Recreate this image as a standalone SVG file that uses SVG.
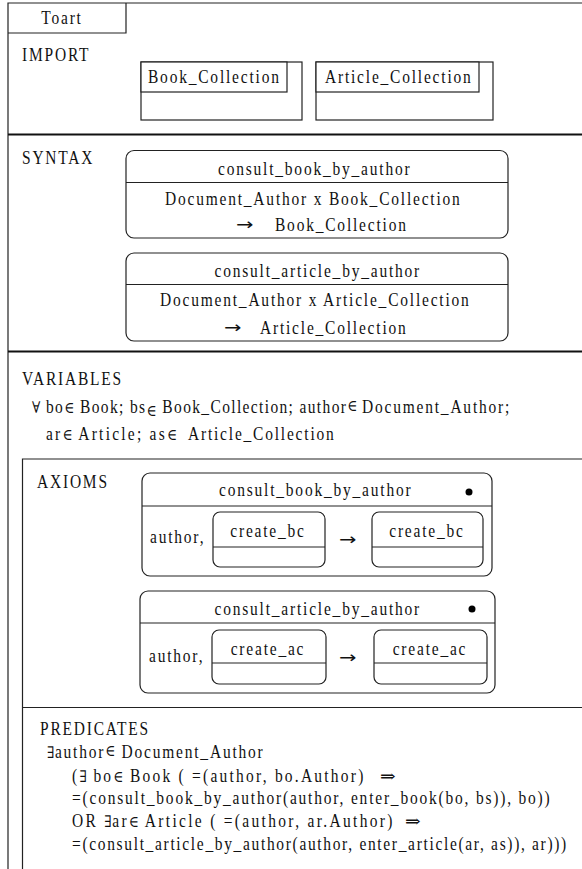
<svg xmlns="http://www.w3.org/2000/svg" width="582" height="869" viewBox="0 0 582 869" xml:space="preserve">
  <style>
    /* narrow, tall serif lettering: glyphs squeezed horizontally around their own box */
    .t { font-family: "Liberation Serif", "DejaVu Serif", serif; font-size: 18px; letter-spacing: 2.1px; fill: #111;
         transform: scaleX(0.86); transform-box: fill-box; transform-origin: 0 50%; }
    .mid { text-anchor: middle; transform-origin: 50% 50%; }
    .tight { letter-spacing: 1.6px; }
    .loose { letter-spacing: 2.6px; }
    .looser { letter-spacing: 2.7px; }
    .long { letter-spacing: 1.95px; }
    .sym { font-family: "DejaVu Serif", "Liberation Serif", serif; font-size: 16px; letter-spacing: 0.5px; }
    .arr { font-family: "DejaVu Sans", sans-serif; font-size: 16px; letter-spacing: 0; transform: scaleX(1.3); }
    .imp { font-family: "DejaVu Serif", serif; font-size: 17px; letter-spacing: 0; transform: scaleX(1.1); }
    .ln { stroke: #222; stroke-width: 1.2; fill: none; }
    .thick { stroke: #111; stroke-width: 2.2; fill: none; }
    .bx { fill: #fff; stroke: #222; stroke-width: 1.2; }
  </style>

  <rect width="582" height="869" fill="#fff"/>

  <!-- outer specification frame with its name tab -->
  <g id="frame">
    <path class="ln" d="M8 869 V3 H582"/>
    <path class="ln" d="M8 33 H126 V3"/>
    <text class="t mid" x="62" y="24">Toart</text>
  </g>

  <!-- IMPORT section -->
  <g id="import">
    <text class="t" x="22" y="61">IMPORT</text>
  </g>
  <g id="book-collection">
    <rect class="bx" x="141" y="62" width="161" height="58"/>
    <rect class="bx" x="141" y="62" width="146" height="30"/>
    <text class="t" x="148" y="83">Book_Collection</text>
  </g>
  <g id="article-collection">
    <rect class="bx" x="316" y="62" width="177" height="58"/>
    <rect class="bx" x="316" y="62" width="163" height="30"/>
    <text class="t" x="325" y="83">Article_Collection</text>
  </g>
  <line class="thick" x1="8" y1="134.5" x2="582" y2="134.5"/>

  <!-- SYNTAX section -->
  <g id="syntax">
    <text class="t" x="22" y="164">SYNTAX</text>
  </g>
  <g id="syntax-consult-book">
    <rect class="bx" x="126" y="150.5" width="382" height="87.5" rx="8"/>
    <line class="ln" x1="126" y1="182.5" x2="508" y2="182.5"/>
    <text class="t" x="218" y="175">consult_book_by_author</text>
    <text class="t" x="165" y="205">Document_Author x Book_Collection</text>
    <text class="t arr" x="236" y="230">→</text>
    <text class="t" x="275" y="231">Book_Collection</text>
  </g>
  <g id="syntax-consult-article">
    <rect class="bx" x="126" y="253" width="382" height="88" rx="8"/>
    <line class="ln" x1="126" y1="284.5" x2="508" y2="284.5"/>
    <text class="t" x="214.5" y="277.5">consult_article_by_author</text>
    <text class="t" x="160" y="306.5">Document_Author x Article_Collection</text>
    <text class="t arr" x="224" y="333">→</text>
    <text class="t" x="260" y="334">Article_Collection</text>
  </g>
  <line class="thick" x1="8" y1="351.5" x2="582" y2="351.5"/>

  <!-- VARIABLES section -->
  <g id="variables">
    <text class="t" x="22" y="385">VARIABLES</text>
    <text class="t tight" x="32" y="413"><tspan class="sym">∀</tspan> bo<tspan class="sym">∈</tspan> Book; bs<tspan class="sym" dy="3">∈</tspan><tspan dy="-3"> Book_Collection; author</tspan><tspan class="sym" dy="-2">∈</tspan></text>
    <text class="t" x="362" y="413">Document_Author;</text>
    <text class="t loose" x="46" y="440">ar<tspan class="sym">∈</tspan> Article; as<tspan class="sym">∈</tspan></text>
    <text class="t" x="188" y="440">Article_Collection</text>
  </g>

  <!-- inner frame holding AXIOMS and PREDICATES -->
  <path class="ln" d="M22.5 869 V459 H582"/>

  <!-- AXIOMS section -->
  <g id="axioms">
    <text class="t" x="37" y="488">AXIOMS</text>
  </g>
  <g id="axiom-consult-book">
    <rect class="bx" x="142" y="473" width="350" height="103" rx="8"/>
    <line class="ln" x1="142" y1="506" x2="492" y2="506"/>
    <text class="t" x="219" y="496.5">consult_book_by_author</text>
    <circle cx="469" cy="492" r="3.5" fill="#000"/>
    <text class="t" x="150" y="543">author,</text>
    <g id="axiom-book-left">
      <rect class="bx" x="213" y="512" width="112" height="55" rx="7"/>
      <line class="ln" x1="213" y1="547" x2="325" y2="547"/>
      <text class="t mid" x="268" y="537">create_bc</text>
    </g>
    <text class="t arr" x="339" y="545">→</text>
    <g id="axiom-book-right">
      <rect class="bx" x="372" y="512" width="111" height="55" rx="7"/>
      <line class="ln" x1="372" y1="547" x2="483" y2="547"/>
      <text class="t mid" x="427" y="537">create_bc</text>
    </g>
  </g>
  <g id="axiom-consult-article">
    <rect class="bx" x="140" y="591" width="355" height="102" rx="8"/>
    <line class="ln" x1="140" y1="623" x2="495" y2="623"/>
    <text class="t" x="214.5" y="615">consult_article_by_author</text>
    <circle cx="472" cy="609" r="3.5" fill="#000"/>
    <text class="t" x="149" y="662">author,</text>
    <g id="axiom-article-left">
      <rect class="bx" x="212" y="630" width="114" height="54" rx="7"/>
      <line class="ln" x1="212" y1="663" x2="326" y2="663"/>
      <text class="t mid" x="268" y="655">create_ac</text>
    </g>
    <text class="t arr" x="339" y="663">→</text>
    <g id="axiom-article-right">
      <rect class="bx" x="374" y="630" width="113" height="54" rx="7"/>
      <line class="ln" x1="374" y1="663" x2="487" y2="663"/>
      <text class="t mid" x="430" y="655">create_ac</text>
    </g>
  </g>
  <line class="ln" x1="22.5" y1="707.5" x2="582" y2="707.5"/>

  <!-- PREDICATES section -->
  <g id="predicates">
    <text class="t" x="40" y="735">PREDICATES</text>
    <text class="t" x="47" y="758"><tspan class="sym">∃</tspan>author<tspan class="sym" dy="-2">∈</tspan><tspan dy="2"> Document_Author</tspan></text>
    <text class="t loose" x="72" y="782">(<tspan class="sym">∃</tspan>  bo<tspan class="sym">∈</tspan>  Book ( =(author, bo.Author)</text>
    <text class="t imp" x="380" y="782">⇒</text>
    <text class="t" x="72" y="804">=(consult_book_by_author(author, enter_book(bo, bs)), bo))</text>
    <text class="t looser" x="72" y="827">OR <tspan class="sym">∃</tspan>ar<tspan class="sym">∈</tspan> Article ( =(author, ar.Author)</text>
    <text class="t imp" x="405" y="827">⇒</text>
    <text class="t long" x="72" y="850">=(consult_article_by_author(author, enter_article(ar, as)), ar)))</text>
  </g>
</svg>
